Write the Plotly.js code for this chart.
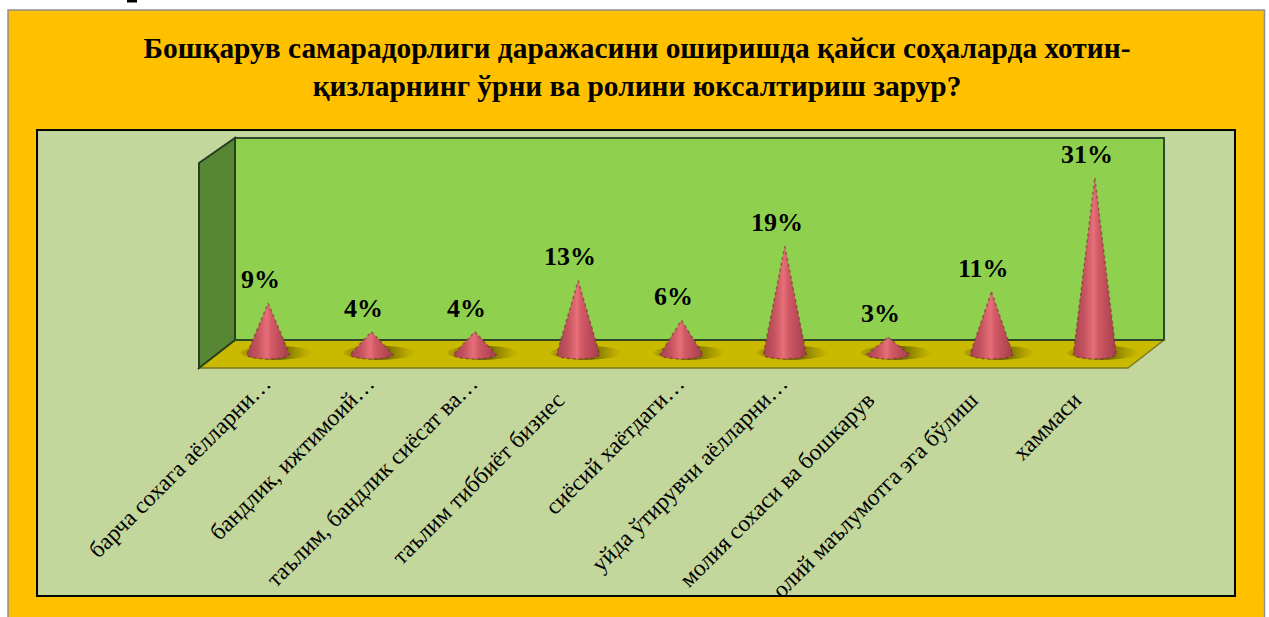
<!DOCTYPE html>
<html>
<head>
<meta charset="utf-8">
<script src="https://cdn.plot.ly/plotly-3.0.1.min.js"></script>
<style>html,body{margin:0;padding:0;background:#fff;overflow:hidden}#chart{width:1269px;height:617px}</style>
</head>
<body>
<div id="chart"></div>
<script>
const categories = [
  'барча сохага аёлларни…',
  'бандлик, ижтимоий…',
  'таълим, бандлик сиёсат ва…',
  'таълим тиббиёт бизнес',
  'сиёсий хаётдаги…',
  'уйда ўтирувчи аёлларни…',
  'молия сохаси ва бошкарув',
  'олий маълумотга эга бўлиш',
  'хаммаси'
];
const values = [9, 4, 4, 13, 6, 19, 3, 11, 31];
const titleText = 'Бошқарув самарадорлиги даражасини оширишда қайси соҳаларда хотин-<br>қизларнинг ўрни ва ролини юксалтириш зарур?';

const W = 1269, H = 617;
const X0 = 216.5, X1 = 1146.5, Y0 = 354.5, PXPER = 5.7, TOP = 132, BOT = 364;
const px = x => x / W, py = y => 1 - y / H;
const ux = 9 / (X1 - X0), uy = 1 / PXPER;

function poly(pts) { return 'M' + pts.map(p => px(p[0]) + ',' + py(p[1])).join('L') + 'Z'; }
function shape(pts, fill, line, width, layer) {
  return {type:'path', xref:'paper', yref:'paper', path:poly(pts), fillcolor:fill,
          line:{color:line||'rgba(0,0,0,0)', width:width||0}, layer:layer||'below'};
}
function rect(x0,y0,x1,y1,fill,line,width,layer){
  return {type:'rect', xref:'paper', yref:'paper', x0:px(x0), x1:px(x1), y0:py(y0), y1:py(y1),
          fillcolor:fill, line:{color:line||'rgba(0,0,0,0)', width:width||0}, layer:layer||'below'};
}

const shapes = [
  rect(8,10,1264.5,640,'#FFC000','#8e8e8e',1.5),
  rect(37,130,1235,596,'#C3D69B','#000',2),
  shape([[235,138],[1164,138],[1164,340],[235,340]],'#8FD14F','#2f4a2a',2),
  shape([[199,368],[235,340],[1164,340],[1128,368]],'#C9BA00','#7d7a22',1.5),
  shape([[199,163],[235,138],[235,340],[199,368]],'#578634','#26401f',2),
  {type:'line', xref:'paper', yref:'paper', x0:px(235), x1:px(1164), y0:py(340), y1:py(340), line:{color:'#2f4a2a', width:2}, layer:'below'},
  rect(9,597.2,1263.5,617,'#FFC000',null,0,'above'),
  rect(127,0,137,2.5,'#000',null,0,'above')
];

const traces = [];
const ELL = [];
for (let a = 0; a <= 180; a += 15) ELL.push(a * Math.PI / 180);
values.forEach((v, i) => {
  const w = 21.5 * ux, ry = 4.5 * uy;
  const sx = [], sy = [];
  for (let a = 0; a < 360; a += 20) {
    sx.push(i + 8*ux + 36*ux*Math.cos(a*Math.PI/180));
    sy.push(0.3 + 7*uy*Math.sin(a*Math.PI/180));
  }
  traces.push({x:sx, y:sy, type:'scatter', mode:'none', fill:'toself', hoverinfo:'skip', showlegend:false,
    fillgradient:{type:'horizontal', colorscale:[[0,'rgba(110,95,0,0.2)'],[0.5,'rgba(70,60,0,0.85)'],[1,'rgba(120,110,0,0)']]}});
  const cx = [i], cy = [v];
  ELL.forEach(a => { cx.push(i + w*Math.cos(a)); cy.push(-ry*Math.sin(a)); });
  cx.push(i); cy.push(v);
  traces.push({x:cx, y:cy, type:'scatter', mode:'lines', fill:'toself', hoverinfo:'skip', showlegend:false,
    line:{color:'rgba(112,58,40,0.6)', width:1.5, dash:'dot'},
    fillgradient:{type:'horizontal', colorscale:[[0,'#a5454f'],[0.25,'#c4525f'],[0.47,'#e66f78'],[0.58,'#d25a66'],[0.8,'#b94a57'],[1,'#a0404a']]}});
});

const annotations = values.map((v, i) => ({
  x:i, y:v, xref:'x', yref:'y', text:'<b>' + v + '%</b>', showarrow:false, xanchor:'center', yanchor:'bottom',
  xshift:-8, yshift:7,
  font:{family:'"Liberation Serif", serif', size:26, color:'#000'}
}));

// whole labels end a little further from the axis than the ones cut short with an ellipsis
const PAD = '\u00a0\u00a0\u00a0\u00a0';
const tickvals = categories.map((c, i) => i);
const ticktext = categories.map(c => c.endsWith('…') ? c : c + PAD);

const layout = {
  width:W, height:H, margin:{l:0,r:0,t:0,b:0}, paper_bgcolor:'#fff', plot_bgcolor:'rgba(0,0,0,0)',
  showlegend:false, shapes, annotations,
  title:{text:'<b>'+titleText+'</b>', x:637/W, xanchor:'center', y:1-57.5/H, yanchor:'top',
         font:{family:'"Liberation Serif", serif', size:29.4, color:'#000'}},
  xaxis:{domain:[px(X0),px(X1)], range:[-0.5,8.5], tickmode:'array', tickvals, ticktext, ticklabelshift:-4,
         tickangle:-45, ticks:'', showgrid:false, zeroline:false, showline:false, automargin:false, fixedrange:true,
         tickfont:{family:'"Liberation Serif", serif', size:23.5, color:'#000'}},
  yaxis:{domain:[py(BOT),py(TOP)], range:[(Y0-BOT)/PXPER,(Y0-TOP)/PXPER], visible:false, fixedrange:true}
};
Plotly.newPlot('chart', traces, layout, {staticPlot:true, displayModeBar:false});
</script>
</body>
</html>
